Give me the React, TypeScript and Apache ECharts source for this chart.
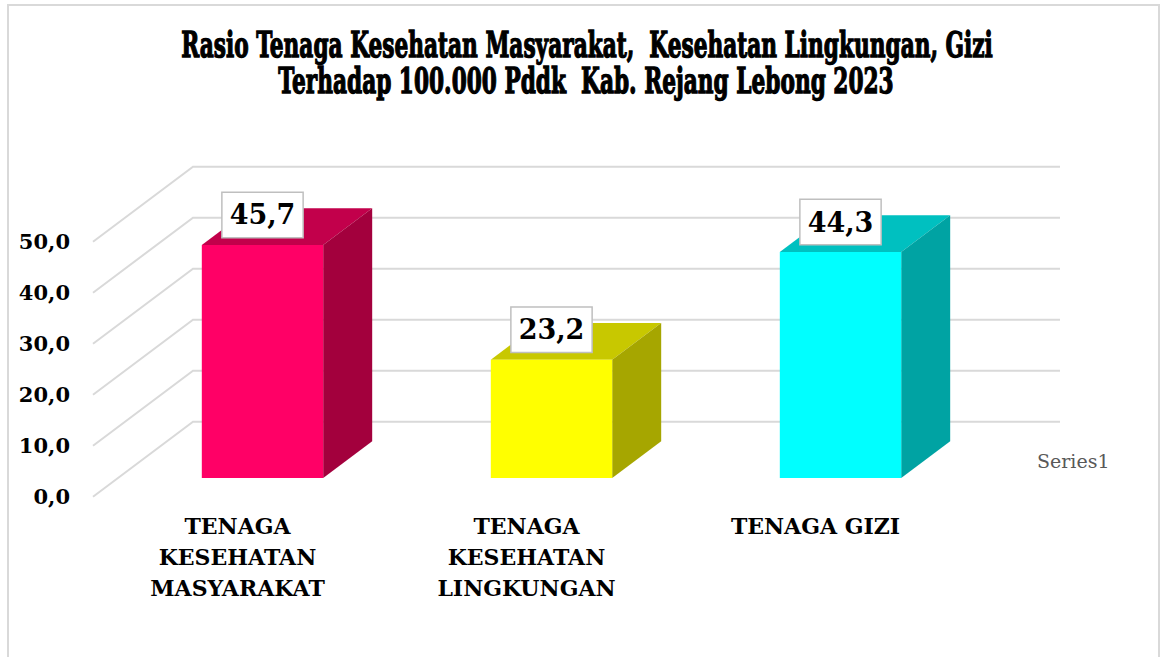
import React, { useEffect, useRef } from "react";
import * as echarts from "echarts";

// ---- data ----
const categories = [
  "TENAGA\nKESEHATAN\nMASYARAKAT",
  "TENAGA\nKESEHATAN\nLINGKUNGAN",
  "TENAGA GIZI",
];
const values = [45.7, 23.2, 44.3];
const yTicks = [0, 10, 20, 30, 40, 50];
const seriesName = "Series1";
const titleLines = [
  "Rasio Tenaga Kesehatan Masyarakat,  Kesehatan Lingkungan, Gizi",
  "Terhadap 100.000 Pddk  Kab. Rejang Lebong 2023",
];

// ---- styles ----
const frontColors = ["#FF0066", "#FFFF00", "#00FFFF"];
const sideColors = ["#A3003D", "#A6A600", "#00A3A3"];
const topColors = ["#C2004B", "#C8C800", "#00C0C0"];
const SERIF = '"DejaVu Serif", "Liberation Serif", serif';
const DX = 100;
const DY = -75;
const F1 = 0.25;
const F2 = 0.74;

const fmt = (v: number) => v.toFixed(1).replace(".", ",");

export default function App() {
  const ref = useRef<HTMLDivElement>(null);
  useEffect(() => {
    if (!ref.current) return;
    const chart = echarts.init(ref.current, undefined, { renderer: "svg" });

    const ctx = document.createElement("canvas").getContext("2d")!;
    const titleFont = `bold 36px ${SERIF}`;
    ctx.font = titleFont;
    const w1 = ctx.measureText(titleLines[0]).width;
    const sx = 812 / w1;

    chart.setOption({
      animation: false,
      backgroundColor: "#ffffff",
      grid: { left: 93, right: 203, top: 241.7, bottom: 160.3, containLabel: false },
      xAxis: {
        type: "category",
        data: categories,
        axisLine: { show: false },
        axisTick: { show: false },
        splitLine: { show: false },
        axisLabel: {
          interval: 0,
          color: "#000",
          fontFamily: SERIF,
          fontWeight: "bold",
          fontSize: 22,
          lineHeight: 31,
          margin: 14,
        },
      },
      yAxis: {
        type: "value",
        min: 0,
        max: 50,
        interval: 10,
        axisLine: { show: false },
        axisTick: { show: false },
        splitLine: { show: false },
        axisLabel: {
          formatter: (v: number) => fmt(v),
          color: "#000",
          fontFamily: SERIF,
          fontWeight: "bold",
          fontSize: 21,
          margin: 23,
        },
      },
      graphic: [
        {
          type: "rect",
          shape: { x: 8, y: 5, width: 1151, height: 700 },
          style: { fill: "none", stroke: "#d9d9d9", lineWidth: 2 },
          silent: true,
        },
        {
          type: "text",
          x: 587,
          y: 44,
          scaleX: sx,
          style: {
            text: titleLines[0],
            font: titleFont,
            fill: "#000",
            stroke: "#000",
            lineWidth: 1.4,
            align: "center",
            verticalAlign: "middle",
          },
        },
        {
          type: "text",
          x: 586,
          y: 80.5,
          scaleX: sx,
          style: {
            text: titleLines[1],
            font: titleFont,
            fill: "#000",
            stroke: "#000",
            lineWidth: 1.4,
            align: "center",
            verticalAlign: "middle",
          },
        },
        {
          type: "text",
          x: 1037,
          y: 461,
          style: {
            text: seriesName,
            font: `19px ${SERIF}`,
            fill: "#595959",
            align: "left",
            verticalAlign: "middle",
          },
        },
      ],
      series: [
        {
          type: "custom",
          z: 1,
          silent: true,
          data: yTicks.map((t) => [0, t]),
          encode: { x: 0, y: 1 },
          renderItem: (params: any, api: any) => {
            const cs = params.coordSys;
            const y = api.coord([0, api.value(1)])[1];
            const x0 = cs.x;
            const x1 = cs.x + cs.width;
            return {
              type: "polyline",
              shape: {
                points: [
                  [x0, y],
                  [x0 + DX, y + DY],
                  [x1 + DX, y + DY],
                ],
              },
              style: { stroke: "#d9d9d9", lineWidth: 2, fill: null },
            };
          },
        },
        {
          type: "custom",
          name: seriesName,
          z: 2,
          data: values.map((v, i) => [i, v]),
          encode: { x: 0, y: 1 },
          renderItem: (params: any, api: any) => {
            const idx = api.value(0);
            const v = api.value(1);
            const base = api.coord([idx, 0]);
            const top = api.coord([idx, v]);
            const band = api.size([1, 0])[0];
            const w = band * 0.42;
            const ox = F1 * DX;
            const oy = F1 * DY;
            const dx = (F2 - F1) * DX;
            const dy = (F2 - F1) * DY;
            const xl = base[0] + ox - w / 2;
            const xr = xl + w;
            const yb = base[1] + oy;
            const yt = top[1] + oy;
            return {
              type: "group",
              children: [
                {
                  type: "polygon",
                  shape: { points: [[xl, yt], [xr, yt], [xr + dx, yt + dy], [xl + dx, yt + dy]] },
                  style: { fill: topColors[idx] },
                },
                {
                  type: "polygon",
                  shape: { points: [[xr, yt], [xr, yb], [xr + dx, yb + dy], [xr + dx, yt + dy]] },
                  style: { fill: sideColors[idx] },
                },
                {
                  type: "rect",
                  shape: { x: xl, y: yt, width: w, height: yb - yt },
                  style: { fill: frontColors[idx] },
                },
                {
                  type: "text",
                  x: base[0] + ox,
                  y: yt - 8,
                  style: {
                    text: fmt(v),
                    font: `bold 27px ${SERIF}`,
                    fill: "#000",
                    align: "center",
                    verticalAlign: "bottom",
                    backgroundColor: "#ffffff",
                    borderColor: "#bfbfbf",
                    borderWidth: 1.5,
                    padding: [6, 7, 6, 7],
                    lineHeight: 32,
                  },
                },
              ],
            };
          },
        },
      ],
    });
    return () => chart.dispose();
  }, []);
  return (
    <div
      ref={ref}
      style={{ position: "fixed", left: 0, top: 0, width: 1163, height: 657, background: "#fff" }}
    />
  );
}
